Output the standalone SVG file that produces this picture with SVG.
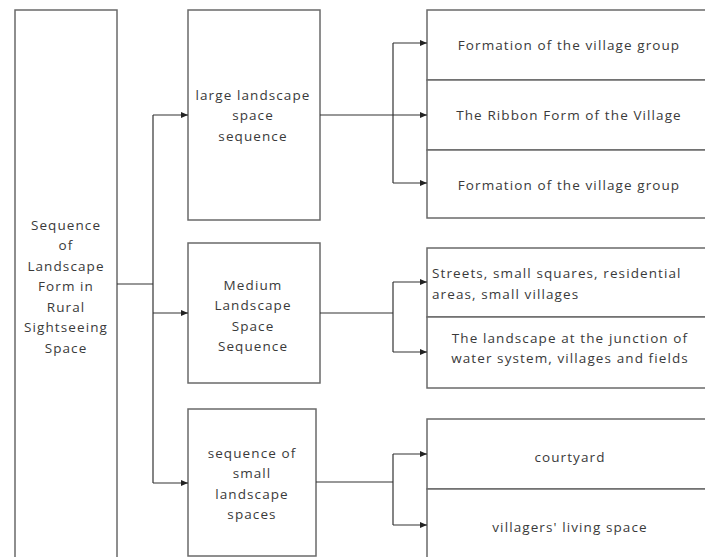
<svg xmlns="http://www.w3.org/2000/svg" width="705" height="557" viewBox="0 0 705 557">
<defs>
<marker id="arr" markerWidth="8" markerHeight="8" refX="7" refY="4" orient="auto" markerUnits="userSpaceOnUse">
<path d="M0,1 L7,4 L0,7 Z" fill="#222"/>
</marker>
<style>
.box{fill:#fff;stroke:#6a6a6a;stroke-width:1.5}
.t{font-family:"Open Sans","Noto Sans",sans-serif;font-size:13.5px;letter-spacing:1.1px;fill:#3a3a3a;text-anchor:middle}
.tl{text-anchor:start}
.c{fill:none;stroke:#333;stroke-width:1.2}
</style>
</defs>
<rect width="705" height="557" fill="#fff"/>
<g id="root">
<rect class="box" x="15" y="10" width="102" height="560"/>
<text class="t" x="66"><tspan x="66" y="230">Sequence</tspan><tspan x="66" y="250">of</tspan><tspan x="66" y="271">Landscape</tspan><tspan x="66" y="291">Form in</tspan><tspan x="66" y="312">Rural</tspan><tspan x="66" y="332">Sightseeing</tspan><tspan x="66" y="353">Space</tspan></text>
</g>
<g id="large">
<rect class="box" x="188" y="10" width="132" height="210"/>
<text class="t"><tspan x="253" y="100">large landscape</tspan><tspan x="253" y="120">space</tspan><tspan x="253" y="141">sequence</tspan></text>
</g>
<g id="medium">
<rect class="box" x="188" y="243" width="132" height="140"/>
<text class="t"><tspan x="253" y="290">Medium</tspan><tspan x="253" y="310">Landscape</tspan><tspan x="253" y="331">Space</tspan><tspan x="253" y="351">Sequence</tspan></text>
</g>
<g id="small">
<rect class="box" x="188" y="409" width="128" height="147"/>
<text class="t"><tspan x="252" y="458">sequence of</tspan><tspan x="252" y="478">small</tspan><tspan x="252" y="499">landscape</tspan><tspan x="252" y="519">spaces</tspan></text>
</g>
<g id="r1">
<rect class="box" x="427" y="10" width="290" height="70"/>
<text class="t" x="569" y="50">Formation of the village group</text>
</g>
<g id="r2">
<rect class="box" x="427" y="80" width="290" height="70"/>
<text class="t" x="569" y="120">The Ribbon Form of the Village</text>
</g>
<g id="r3">
<rect class="box" x="427" y="150" width="290" height="68"/>
<text class="t" x="569" y="190">Formation of the village group</text>
</g>
<g id="r4">
<rect class="box" x="427" y="248" width="290" height="69"/>
<text class="t tl"><tspan x="432" y="278">Streets, small squares, residential</tspan><tspan x="432" y="299">areas, small villages</tspan></text>
</g>
<g id="r5">
<rect class="box" x="427" y="317" width="290" height="71"/>
<text class="t"><tspan x="570" y="343">The landscape at the junction of</tspan><tspan x="570" y="363">water system, villages and fields</tspan></text>
</g>
<g id="r6">
<rect class="box" x="427" y="419" width="290" height="70"/>
<text class="t" x="570" y="462">courtyard</text>
</g>
<g id="r7">
<rect class="box" x="427" y="489" width="290" height="90"/>
<text class="t" x="570" y="532">villagers' living space</text>
</g>
<g id="connectors">
<path class="c" d="M117,284 H153"/>
<path class="c" d="M153,115 V483"/>
<path class="c" d="M153,115 H188" marker-end="url(#arr)"/>
<path class="c" d="M153,313 H188" marker-end="url(#arr)"/>
<path class="c" d="M153,483 H188" marker-end="url(#arr)"/>
<path class="c" d="M320,115 H393"/>
<path class="c" d="M393,43 V183"/>
<path class="c" d="M393,43 H427" marker-end="url(#arr)"/>
<path class="c" d="M393,115 H427" marker-end="url(#arr)"/>
<path class="c" d="M393,183 H427" marker-end="url(#arr)"/>
<path class="c" d="M320,313 H393"/>
<path class="c" d="M393,282 V352"/>
<path class="c" d="M393,282 H427" marker-end="url(#arr)"/>
<path class="c" d="M393,352 H427" marker-end="url(#arr)"/>
<path class="c" d="M316,482 H393"/>
<path class="c" d="M393,454 V525"/>
<path class="c" d="M393,454 H427" marker-end="url(#arr)"/>
<path class="c" d="M393,525 H427" marker-end="url(#arr)"/>
</g>
</svg>
